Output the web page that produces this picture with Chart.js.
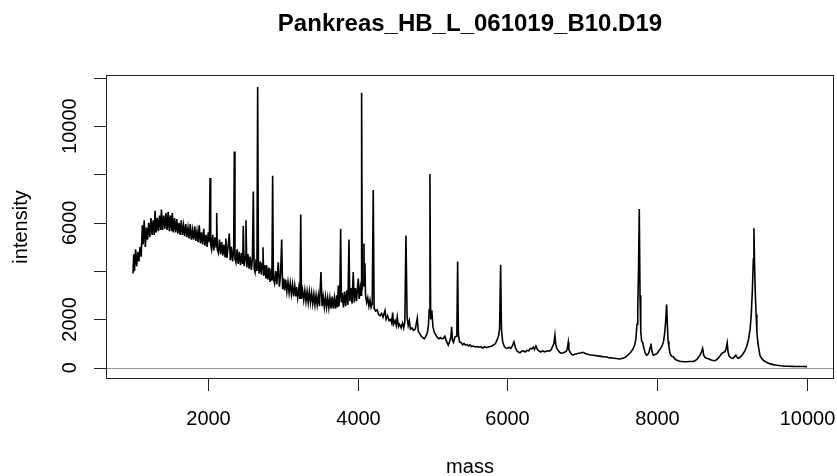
<!DOCTYPE html>
<html>
<head>
<meta charset="utf-8">
<title>Pankreas_HB_L_061019_B10.D19</title>
<script src="https://cdn.jsdelivr.net/npm/chart.js"></script>
<style>
  html, body { margin: 0; padding: 0; background: #fff; }
  canvas { display: block; }
</style>
</head>
<body>
<canvas id="spectrum" width="837" height="476"></canvas>
<script>
const chartTitle = 'Pankreas_HB_L_061019_B10.D19';
const xTitle = 'mass';
const yTitle = 'intensity';

const xTicks = [2000, 4000, 6000, 8000, 10000];
const yTicks = [0, 2000, 4000, 6000, 8000, 10000, 12000];
const yTickLabels = [0, 2000, 6000, 10000];

const masses = [
  1000, 1010, 1020, 1035, 1050, 1065, 1080, 1095, 1110, 1125,
  1135, 1150, 1165, 1180, 1195, 1210, 1225, 1240, 1255, 1270,
  1285, 1295, 1310, 1325, 1340, 1355, 1370, 1380, 1395, 1410,
  1425, 1440, 1455, 1470, 1485, 1500, 1515, 1525, 1540, 1555,
  1570, 1585, 1600, 1615, 1630, 1645, 1660, 1675, 1690, 1705,
  1720, 1735, 1750, 1765, 1780, 1795, 1810, 1825, 1840, 1855,
  1870, 1885, 1900, 1915, 1930, 1945, 1960, 1975, 1990, 2005,
  2020, 2029, 2038, 2050, 2065, 2080, 2095, 2110, 2118, 2126,
  2140, 2155, 2170, 2185, 2200, 2215, 2230, 2240, 2255, 2270,
  2286, 2300, 2315, 2330, 2345, 2353, 2362, 2375, 2390, 2405,
  2420, 2435, 2450, 2465, 2473, 2485, 2500, 2509, 2520, 2535,
  2550, 2565, 2580, 2595, 2607, 2618, 2630, 2645, 2655, 2665,
  2675, 2685, 2700, 2715, 2725, 2736, 2745, 2760, 2775, 2785,
  2800, 2815, 2830, 2845, 2855, 2865, 2875, 2890, 2905, 2920,
  2940, 2955, 2970, 2986, 2998, 3012, 3025, 3040, 3055, 3070,
  3085, 3100, 3115, 3130, 3145, 3160, 3175, 3185, 3200, 3215,
  3230, 3240, 3250, 3265, 3280, 3295, 3310, 3325, 3340, 3355,
  3370, 3385, 3400, 3415, 3430, 3445, 3460, 3475, 3490, 3510,
  3525, 3540, 3555, 3570, 3585, 3600, 3615, 3630, 3645, 3660,
  3675, 3690, 3705, 3720, 3730, 3741, 3750, 3762, 3773, 3783,
  3795, 3810, 3825, 3840, 3855, 3870, 3884, 3895, 3910, 3925,
  3941, 3955, 3970, 3985, 4000, 4009, 4020, 4035, 4045, 4053,
  4062, 4075, 4084, 4090, 4097, 4105, 4120, 4135, 4150, 4165,
  4180, 4195, 4208, 4220, 4240, 4260, 4280, 4300, 4320, 4340,
  4365, 4380, 4400, 4420, 4440, 4455, 4467, 4480, 4500, 4515,
  4529, 4545, 4560, 4580, 4600, 4615, 4630, 4645, 4660, 4675,
  4690, 4705, 4725, 4745, 4770, 4796, 4810, 4830, 4850, 4870,
  4890, 4910, 4930, 4945, 4955, 4965, 4975, 4990, 5005, 5025,
  5045, 5065, 5085, 5105, 5125, 5143, 5165, 5185, 5210, 5230,
  5245, 5255, 5265, 5280, 5300, 5315, 5325, 5335, 5345, 5360,
  5380, 5400, 5420, 5440, 5460, 5480, 5500, 5520, 5545, 5570,
  5595, 5620, 5645, 5670, 5695, 5720, 5745, 5770, 5795, 5815,
  5840, 5860, 5880, 5895, 5909, 5920, 5935, 5955, 5975, 5995,
  6020, 6045, 6065, 6087, 6105, 6125, 6145, 6167, 6190, 6210,
  6235, 6260, 6285, 6305, 6325, 6345, 6360, 6380, 6400, 6420,
  6445, 6470, 6495, 6520, 6545, 6565, 6585, 6605, 6620, 6634,
  6645, 6660, 6680, 6700, 6720, 6745, 6770, 6790, 6805, 6812,
  6820, 6840, 6860, 6880, 6900, 6925, 6950, 6975, 7000, 7020,
  7045, 7070, 7095, 7120, 7145, 7170, 7200, 7225, 7250, 7275,
  7300, 7325, 7350, 7375, 7400, 7425, 7450, 7475, 7500, 7525,
  7550, 7575, 7600, 7620, 7640, 7660, 7680, 7700, 7715, 7730,
  7740, 7750, 7760, 7770, 7780, 7792, 7805, 7822, 7840, 7858,
  7875, 7890, 7905, 7916, 7928, 7947, 7965, 7985, 8005, 8020,
  8036, 8055, 8070, 8085, 8100, 8112, 8125, 8135, 8145, 8156,
  8170, 8190, 8214, 8240, 8270, 8300, 8330, 8360, 8390, 8420,
  8450, 8480, 8510, 8540, 8570, 8590, 8606, 8620, 8640, 8660,
  8690, 8720, 8750, 8770, 8800, 8830, 8859, 8880, 8903, 8920,
  8934, 8945, 8960, 8975, 8990, 9010, 9030, 9050, 9065, 9080,
  9100, 9120, 9148, 9170, 9190, 9205, 9220, 9240, 9255, 9270,
  9283, 9291, 9300, 9310, 9320, 9330, 9340, 9355, 9371, 9390,
  9420, 9460, 9500, 9550, 9600, 9650, 9700, 9750, 9800, 9850,
  9900, 9950, 10000
];

const intensities = [
  3900, 4700, 4000, 4900, 4200, 4800, 4400, 5000, 4600, 5900,
  5100, 6100, 5000, 5800, 5300, 6000, 5400, 6200, 5500, 6100,
  5500, 6500, 5600, 6200, 5650, 6300, 5700, 6550, 5700, 6300,
  5750, 6400, 5700, 6450, 5650, 6300, 5650, 6400, 5600, 6200,
  5600, 6150, 5550, 6000, 5500, 6100, 5500, 5900, 5450, 5950,
  5400, 5800, 5350, 5950, 5300, 5700, 5300, 5850, 5250, 5650,
  5200, 5900, 5150, 5600, 5100, 5750, 5050, 5500, 5000, 5600,
  5200, 7850, 5100, 4900, 5500, 4850, 5400, 5000, 6400, 4900,
  4750, 5300, 4700, 5200, 4650, 5100, 4600, 5350, 4550, 5000,
  5550, 4450, 5000, 4400, 4900, 8950, 4500, 4350, 4900, 4300,
  4800, 4250, 4750, 4300, 5880, 4200, 4600, 6100, 4150, 4700,
  4100, 4600, 4050, 4500, 7290, 4100, 3950, 4500, 4000, 11620,
  4200, 3900, 4400, 3850, 4300, 4990, 3800, 4250, 3700, 4240,
  3650, 4150, 3550, 4100, 3600, 7950, 3700, 3500, 4000, 3450,
  4360, 3350, 3850, 5310, 3250, 3700, 3200, 3650, 3150, 3550,
  3100, 3500, 3050, 3450, 2950, 3400, 2950, 3340, 2900, 3300,
  2850, 6340, 2850, 3200, 2800, 3200, 2750, 3150, 2700, 3150,
  2700, 3100, 2650, 3050, 2600, 3000, 2600, 3000, 2550, 3960,
  2550, 2950, 2500, 2950, 2500, 2900, 2480, 2900, 2450, 2950,
  2450, 2900, 2450, 3000, 2500, 3400, 2550, 3000, 5750, 2700,
  3100, 2500, 3150, 2550, 3200, 2600, 5310, 2750, 3300, 2650,
  3960, 2700, 3300, 2750, 3400, 3690, 2850, 3300, 3000, 11380,
  3300, 3500, 5140, 3400, 4320, 3000, 2700, 2900, 2550, 2800,
  2500, 2650, 7360, 2450, 2350, 2400, 2200, 2150, 2250, 2100,
  2370, 2000, 2150, 1950, 2000, 1850, 2280, 1800, 1950, 1750,
  2100, 1700, 1800, 1650, 1850, 1650, 1900, 5470, 2100, 1750,
  1950, 1600, 1650, 1550, 1600, 2050, 1500, 1400, 1300, 1250,
  1200, 1300, 1450, 1750, 2400, 8020, 2000, 2380, 1700, 1450,
  1350, 1250, 1200, 1250, 1200, 1210, 1300, 1100, 935, 1100,
  1300, 1690, 1150, 1050, 1280, 1300, 1600, 4400, 1400, 1070,
  1050, 950, 1000, 935, 960, 900, 950, 880, 900, 860,
  880, 850, 870, 820, 870, 830, 860, 880, 900, 950,
  1000, 1140, 1300, 1600, 4260, 1600, 1100, 900, 820, 800,
  850, 800, 900, 1070, 850, 700, 650, 620, 680, 700,
  650, 720, 700, 800, 780, 850, 750, 900, 750, 700,
  650, 700, 660, 680, 700, 700, 750, 900, 1000, 1350,
  950, 800, 700, 630, 600, 620, 650, 700, 900, 1050,
  750, 620, 550, 530, 560, 580, 600, 610, 640, 620,
  580, 560, 540, 530, 520, 510, 490, 480, 470, 460,
  455, 445, 420, 410, 400, 390, 380, 370, 360, 380,
  400, 440, 500, 560, 620, 700, 800, 950, 1200, 1800,
  2500, 4000, 6570, 3000, 1500, 1100, 1050, 800, 600, 520,
  550, 650, 850, 1000, 700, 520, 540, 570, 620, 690,
  760, 850, 950, 1100, 1450, 1900, 2620, 1800, 1100, 870,
  600, 480, 455, 350, 300, 270, 260, 250, 250, 260,
  260, 260, 300, 380, 520, 650, 800, 520, 420, 390,
  360, 320, 300, 290, 350, 450, 590, 630, 660, 800,
  1030, 650, 480, 440, 400, 385, 450, 520, 430, 390,
  420, 480, 590, 700, 850, 1000, 1200, 1600, 2200, 3200,
  4500, 5775, 4200, 3000, 2200, 1500, 1140, 800, 520, 400,
  300, 230, 170, 130, 100, 80, 65, 60, 55, 52,
  50, 50, 48
];

// axis limits as R would pad them (4% each side)
const xMin = 640, xMax = 10360;
const yMin = -466, yMax = 12116;

const fontFamily = '"Liberation Sans", Arial, Helvetica, sans-serif';

const rAxes = {
  id: 'rAxes',
  beforeDatasetsDraw(chart) {
    const ctx = chart.ctx;
    const area = chart.chartArea;
    const y0 = Math.round(chart.scales.y.getPixelForValue(0)) + 0.5;
    ctx.save();
    ctx.strokeStyle = '#999999';
    ctx.lineWidth = 1;
    ctx.beginPath();
    ctx.moveTo(area.left, y0);
    ctx.lineTo(area.right, y0);
    ctx.stroke();
    ctx.restore();
  },
  afterDraw(chart) {
    const ctx = chart.ctx;
    const area = chart.chartArea;
    const xs = chart.scales.x;
    const ys = chart.scales.y;
    const cx = (area.left + area.right) / 2;
    const cy = (area.top + area.bottom) / 2;

    ctx.save();
    ctx.strokeStyle = '#222';
    ctx.fillStyle = '#000';
    ctx.lineWidth = 1;
    ctx.strokeRect(area.left + 0.5, area.top + 0.5, area.right - area.left - 1, area.bottom - area.top - 1);

    // x ticks
    ctx.font = '20px ' + fontFamily;
    ctx.textAlign = 'center';
    ctx.textBaseline = 'alphabetic';
    xTicks.forEach(v => {
      const px = Math.round(xs.getPixelForValue(v)) + 0.5;
      ctx.beginPath();
      ctx.moveTo(px, area.bottom);
      ctx.lineTo(px, area.bottom + 12);
      ctx.stroke();
      ctx.fillText(String(v), px, 425);
    });

    // y ticks
    yTicks.forEach(v => {
      const py = Math.round(ys.getPixelForValue(v)) + 0.5;
      ctx.beginPath();
      ctx.moveTo(area.left, py);
      ctx.lineTo(area.left - 12, py);
      ctx.stroke();
    });
    yTickLabels.forEach(v => {
      const py = ys.getPixelForValue(v);
      ctx.save();
      ctx.translate(76, py);
      ctx.rotate(-Math.PI / 2);
      ctx.fillText(String(v), 0, 0);
      ctx.restore();
    });

    // titles
    ctx.fillText(xTitle, cx, 473);
    ctx.save();
    ctx.translate(27, cy);
    ctx.rotate(-Math.PI / 2);
    ctx.fillText(yTitle, 0, 0);
    ctx.restore();

    ctx.font = 'bold 24px ' + fontFamily;
    ctx.fillText(chartTitle, cx, 31);
    ctx.restore();
  }
};

document.addEventListener('DOMContentLoaded', function () {
  const ctx = document.getElementById('spectrum').getContext('2d');
  const points = masses.map((m, i) => ({ x: m, y: intensities[i] }));

  new Chart(ctx, {
    type: 'scatter',
    data: {
      datasets: [{
        data: points,
        showLine: true,
        borderColor: '#000',
        borderWidth: 1.6,
        pointRadius: 0,
        tension: 0
      }]
    },
    options: {
      responsive: false,
      animation: false,
      events: [],
      layout: { padding: { left: 106, right: 3, top: 75, bottom: 97 } },
      plugins: {
        legend: { display: false },
        tooltip: { enabled: false },
        title: { display: false }
      },
      scales: {
        x: { type: 'linear', min: xMin, max: xMax, display: false },
        y: { type: 'linear', min: yMin, max: yMax, display: false }
      }
    },
    plugins: [rAxes]
  });
});
</script>
</body>
</html>
